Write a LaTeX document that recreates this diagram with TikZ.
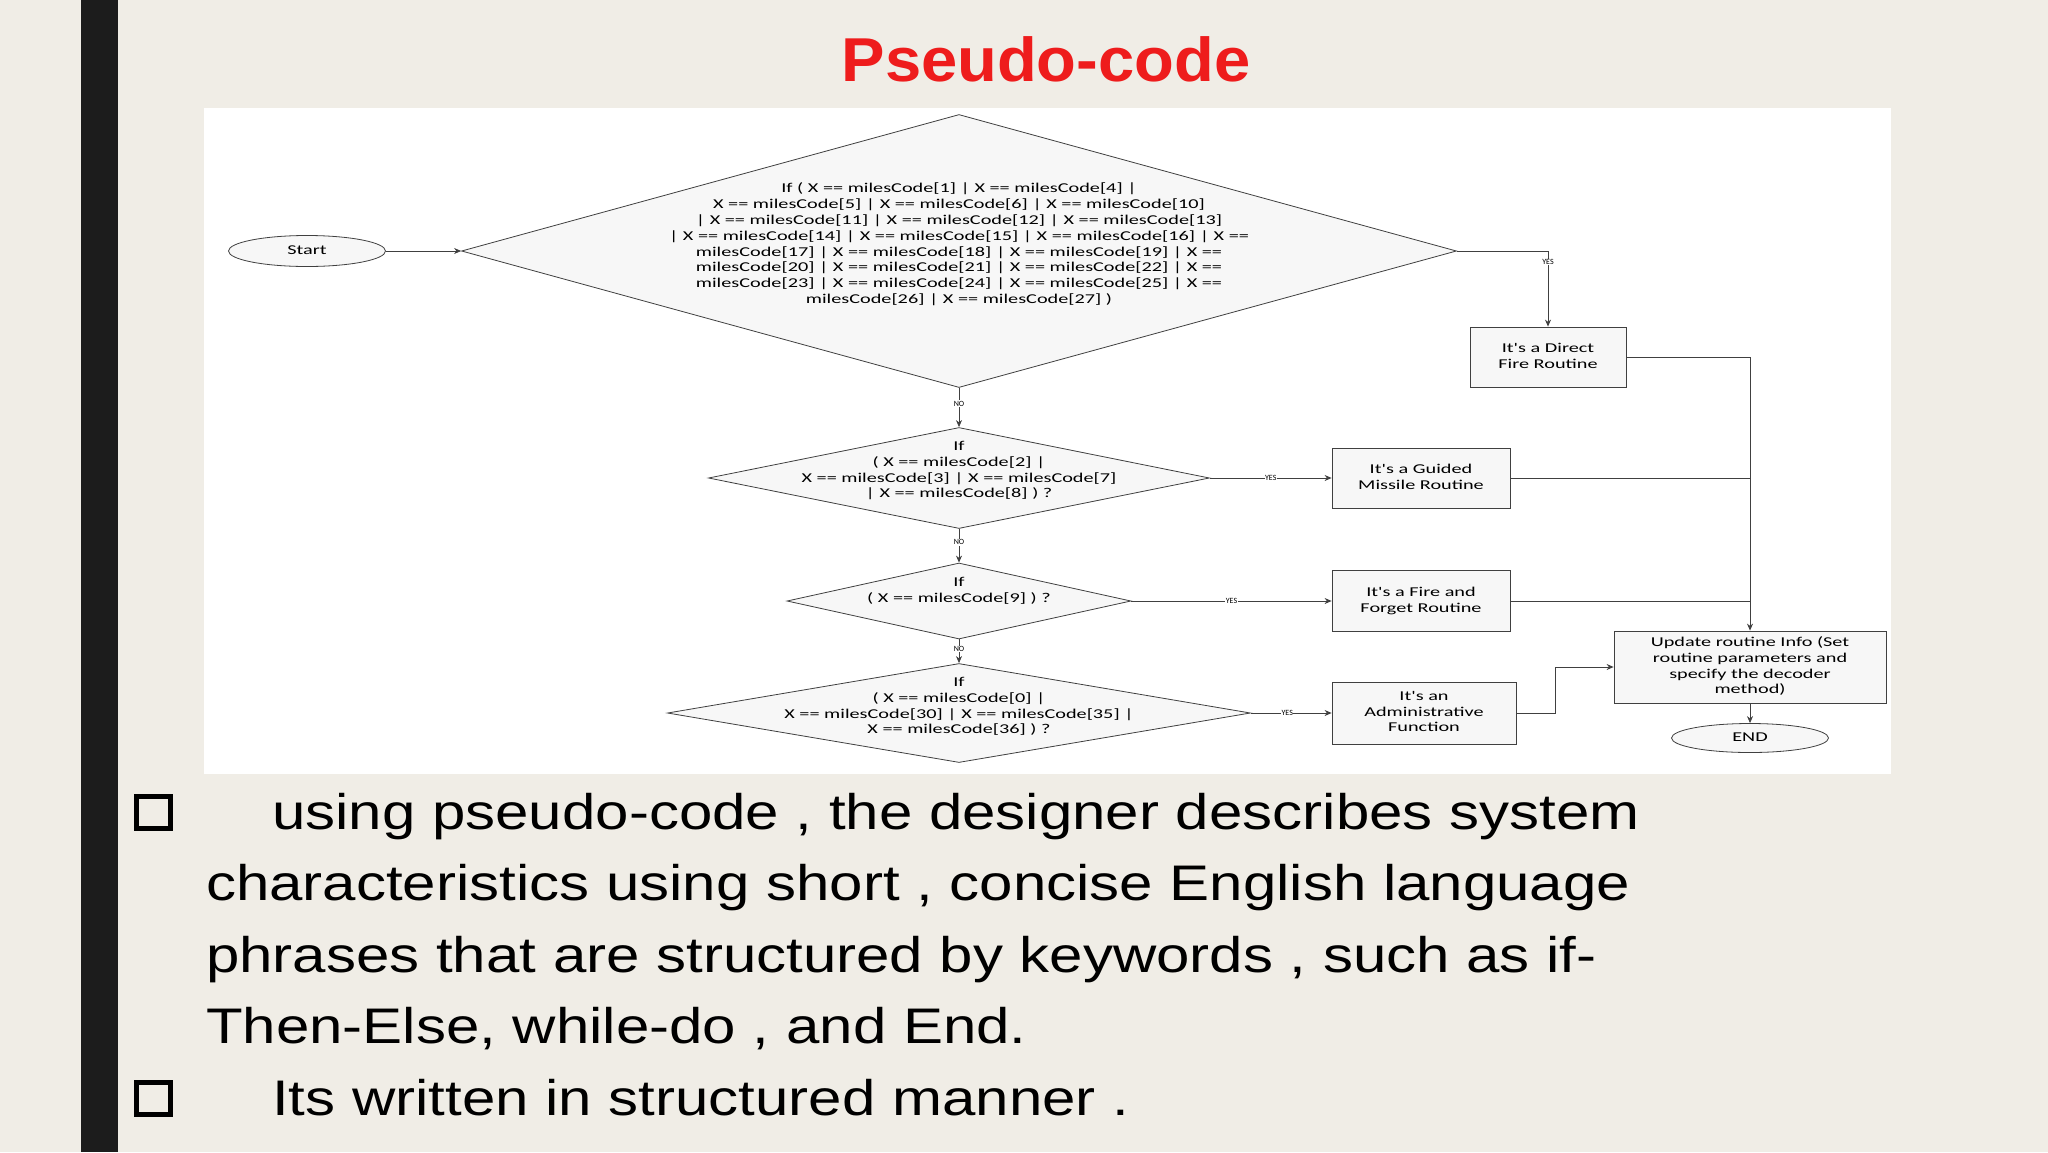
\documentclass[tikz,border=0pt]{standalone}
\usepackage{fontspec}
\setmainfont{Liberation Sans}
\newfontfamily\dg{Carlito}
\usetikzlibrary{shapes.geometric,arrows.meta}
\definecolor{bg}{HTML}{F0EDE6}
\definecolor{bar}{HTML}{1C1C1C}
\definecolor{ttl}{HTML}{EE1C1C}
\newcommand\hs[1]{\scalebox{1.5}[1]{\begin{tabular}{@{}c@{}}#1\end{tabular}}}
\newcommand\bs[1]{\scalebox{1.2}[1]{#1}}
\begin{document}
\begin{tikzpicture}[x=1pt,y=-1pt,
  dia/.style={draw=black!75,line width=0.8pt,diamond,fill=black!3,inner sep=0pt},
  dtxt/.style={font=\dg\fontsize{13.5}{15.8}\selectfont,inner sep=0pt},
  box/.style={draw=black!75,line width=0.8pt,fill=black!3,font=\dg\fontsize{13.5}{15.8}\selectfont,inner sep=1pt},
  term/.style={draw=black!75,line width=0.8pt,ellipse,fill=black!3,font=\dg\fontsize{13.5}{15.8}\selectfont,inner sep=0pt},
  lab/.style={font=\dg\fontsize{8}{9}\selectfont,fill=white,inner sep=0.5pt},
  arr/.style={draw=black!75,line width=0.8pt,-{Stealth[length=7pt,width=6pt]}},
  ln/.style={draw=black!75,line width=0.8pt},
  btxt/.style={font=\fontsize{50}{72}\selectfont,anchor=base west,inner sep=0pt}]
\useasboundingbox (0,0) rectangle (2048,1152);
\fill[bg] (0,0) rectangle (2048,1152);
\fill[bar] (81,0) rectangle (118,1152);
\node[text=ttl,font=\bfseries\fontsize{62}{66}\selectfont] (title) at (1046,59) {\scalebox{1.05}[1]{Pseudo-code}};
\fill[white] (204,108) rectangle (1891,774);
% start
\node[term,minimum width=157,minimum height=31] (start) at (307,251) {\hs{Start}};
% diamond 1
\node[dia,minimum width=995,minimum height=273] (d1) at (959,251) {};
\node[dtxt] (t1) at (959,245) {\hs{If ( X == milesCode[1] | X == milesCode[4] |\\
X == milesCode[5] | X == milesCode[6] | X == milesCode[10]\\
| X == milesCode[11] | X == milesCode[12] | X == milesCode[13]\\
| X == milesCode[14] | X == milesCode[15] | X == milesCode[16] | X ==\\
milesCode[17] | X == milesCode[18] | X == milesCode[19] | X ==\\
milesCode[20] | X == milesCode[21] | X == milesCode[22] | X ==\\
milesCode[23] | X == milesCode[24] | X == milesCode[25] | X ==\\
milesCode[26] | X == milesCode[27] )}};
\node[box,minimum width=156,minimum height=60] (b1) at (1548,357) {\hs{It's a Direct\\Fire Routine}};
% diamond 2
\node[dia,minimum width=501,minimum height=101] (d2) at (959,478) {};
\node[dtxt] (t2) at (959,471) {\hs{If\\( X == milesCode[2] |\\X == milesCode[3] | X == milesCode[7]\\| X == milesCode[8] ) ?}};
\node[box,minimum width=178,minimum height=60] (b2) at (1421,478) {\hs{It's a Guided\\Missile Routine}};
% diamond 3
\node[dia,minimum width=344,minimum height=76] (d3) at (959,601) {};
\node[dtxt] (t3) at (959,591) {\hs{If\\( X == milesCode[9] ) ?}};
\node[box,minimum width=178,minimum height=61] (b3) at (1421,601) {\hs{It's a Fire and\\Forget Routine}};
% diamond 4
\node[dia,minimum width=583,minimum height=99] (d4) at (959,713) {};
\node[dtxt] (t4) at (959,707) {\hs{If\\( X == milesCode[0] |\\X == milesCode[30] | X == milesCode[35] |\\X == milesCode[36] ) ?}};
\node[box,minimum width=184,minimum height=62] (b4) at (1424,713) {\hs{It's an\\Administrative\\Function}};
% update & end
\node[box,minimum width=272,minimum height=72] (up) at (1750,667) {\hs{Update routine Info (Set\\routine parameters and\\specify the decoder\\method)}};
\node[term,minimum width=157,minimum height=29] (end) at (1750,738) {\hs{END}};
% connectors
\draw[arr] (start) -- (d1.west);
\coordinate (c1) at (1548,251);
\draw[arr] (d1.east) -- (c1) -- node[lab,pos=0.15]{YES} (b1.north);
\draw[arr] (d1.south) -- node[lab,pos=0.4]{NO} (d2.north);
\draw[arr] (d2.south) -- node[lab,pos=0.4]{NO} (d3.north);
\draw[arr] (d3.south) -- node[lab,pos=0.4]{NO} (d4.north);
\draw[arr] (d2.east) -- node[lab,pos=0.5]{YES} (b2.west);
\draw[arr] (d3.east) -- node[lab,pos=0.5]{YES} (b3.west);
\draw[arr] (d4.east) -- node[lab,pos=0.45]{YES} (b4.west);
\coordinate (j1) at (1750,357);
\draw[arr] (b1.east) -- (j1) -- (up.north);
\draw[ln] (b2.east) -- (1750,478);
\draw[ln] (b3.east) -- (1750,601);
\coordinate (k1) at (1555,713);
\coordinate (k2) at (1555,667);
\draw[arr] (b4.east) -- (k1) -- (k2) -- (up.west);
\draw[arr] (up.south) -- (end.north);
% bullets
\foreach \y in {812,1098}{\draw[line width=5pt] (136,\y-16) rectangle (170,\y+16);}
\node[btxt] (l1) at (272,829) {\bs{using pseudo-code , the designer describes system}};
\node[btxt] (l2) at (206,900) {\bs{characteristics using short , concise English language}};
\node[btxt] (l3) at (206,972) {\bs{phrases that are structured by keywords , such as if-}};
\node[btxt] (l4) at (206,1043) {\bs{Then-Else, while-do , and End.}};
\node[btxt] (l5) at (272,1115) {\bs{Its written in structured manner .}};
\end{tikzpicture}
\end{document}
